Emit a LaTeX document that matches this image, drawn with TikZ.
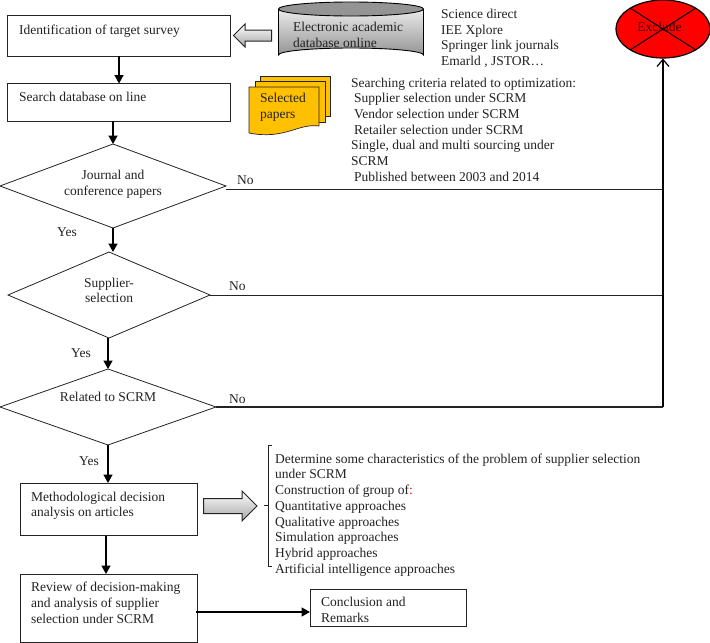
\documentclass[tikz,border=0pt]{standalone}
\usepackage{fontspec}
\setmainfont{Liberation Serif}
\usetikzlibrary{arrows.meta,shapes.geometric}
\definecolor{ink}{RGB}{35,35,35}
\definecolor{gold}{RGB}{255,192,0}
\tikzset{
  x=1pt,y=-1pt,
  flowbox/.style={draw=ink,line width=0.8pt,fill=white},
  dia/.style={draw=ink,line width=0.8pt,fill=white},
  txt/.style={font=\fontsize{13.5}{15.7}\selectfont,text=ink,align=left,inner sep=0pt,anchor=north west},
  ctxt/.style={font=\fontsize{13.5}{15.7}\selectfont,text=ink,align=center,inner sep=0pt},
  flow/.style={draw=black,line width=1.5pt,-{Triangle[length=8.5pt,width=9pt]}},
  noline/.style={draw=ink,line width=0.8pt},
  upline/.style={draw=black,line width=1.2pt,-{Straight Barb[length=7pt,width=12pt,line width=1.2pt]}},
  blockarrow/.style={draw=ink,line width=1pt,top color=white,bottom color=black!35},
  page/.style={draw=ink,line width=0.7pt,fill=gold},
}
\begin{document}
\begin{tikzpicture}
\useasboundingbox (0,0) rectangle (710,643);
\fill[white] (0,0) rectangle (710,643);

% boxes
\draw[flowbox] (7.5,15.5) rectangle (230.5,56);
\coordinate (b1b) at (119,56);
\draw[flowbox] (7.5,83.5) rectangle (230.5,121);
\coordinate (b2t) at (119,83.5);
\coordinate (b2b) at (113,121);
\node[txt] (t1) at (19,25) {Identification of target survey};
\node[txt] (t2) at (19,92) {Search database on line};

% diamonds
\draw[dia] (0,186) -- (113,144) -- (226,186) -- (113,228) -- cycle;
\coordinate (d1t) at (113,144); \coordinate (d1b) at (113,228); \coordinate (d1r) at (226,189);
\node[ctxt] (t3) at (113,184.5) {Journal and\\conference papers};
\draw[dia] (8,295) -- (109,252) -- (210,295) -- (109,338) -- cycle;
\coordinate (d2t) at (112,252); \coordinate (d2b) at (108,338); \coordinate (d2r) at (210,295);
\node[ctxt] (t4) at (109,290.5) {Supplier-\\selection};
\draw[dia] (0,407) -- (108,369) -- (216,407) -- (108,445) -- cycle;
\coordinate (d3t) at (108,369); \coordinate (d3b) at (108,445); \coordinate (d3r) at (216,407);
\node[ctxt] (t5) at (108,396.5) {Related to SCRM};

\draw[flowbox] (20,483) rectangle (197,535.5);
\coordinate (b3t) at (108,483); \coordinate (b3b) at (106,535.5);
\node[txt] (t6) at (31,491.5) {Methodological decision\\analysis on articles};
\draw[flowbox] (20,574) rectangle (197,642);
\coordinate (b4t) at (106,574); \coordinate (b4r) at (196,612);
\node[txt] (t7) at (31,582) {Review of decision-making\\and analysis of supplier\\selection under SCRM};
\draw[flowbox] (310,589) rectangle (466,626);
\coordinate (b5l) at (310,612);
\node[txt] (t8) at (321,597) {Conclusion and\\Remarks};

% flow arrows
\draw[flow] (b1b) -- (b2t);
\draw[flow] (b2b) -- (d1t);
\draw[flow] (d1b) -- (113,252);
\draw[flow] (d2b) -- (d3t);
\draw[flow] (d3b) -- (b3t);
\draw[flow] (b3b) -- (b4t);
\draw[flow,line width=1.6pt] (b4r) -- (b5l);

\node[ctxt,anchor=west] (y1) at (57,232.5) {Yes};
\node[ctxt,anchor=west] (y2) at (71,353.5) {Yes};
\node[ctxt,anchor=west] (y3) at (79,461.5) {Yes};
\node[ctxt,anchor=west] (n1) at (237,180) {No};
\node[ctxt,anchor=west] (n2) at (229,286) {No};
\node[ctxt,anchor=west] (n3) at (229,399) {No};

% Exclude
\node[draw=black,line width=1.2pt,fill=red,ellipse,minimum width=94pt,minimum height=58pt,inner sep=0pt] (ex) at (663,29) {};
\draw[black,line width=1pt] (630,8) -- (696,50);
\draw[black,line width=1pt] (696,8) -- (630,50);
\node[ctxt,text=black!75!red] (ext) at (659.5,26.5) {Exclude};

\coordinate (j) at (663,407);
\draw[noline] (d1r) -- (663,189);
\draw[noline] (d2r) -- (663,295);
\draw[noline,line width=1.1pt] (d3r) -- (j);
\draw[upline] (j) -- (ex.south);

% cylinder
\shade[top color=black!8,bottom color=black!42] (278.5,9) -- (278.5,55) arc[start angle=180,end angle=360,x radius=72.5,y radius=7] -- (423.5,9) arc[start angle=0,end angle=180,x radius=72.5,y radius=7];
\draw[black,line width=0.9pt,fill=black!42] (351,9) ellipse[x radius=72.5,y radius=7];
\draw[black,line width=0.9pt] (278.5,9) -- (278.5,55) arc[start angle=180,end angle=360,x radius=72.5,y radius=7] -- (423.5,9);
\node[txt,font=\fontsize{13.5}{16.3}\selectfont] (db) at (293,22) {Electronic academic\\database online};

% block arrows
\draw[blockarrow] (233.5,35.5) -- (245,24) -- (245,30) -- (271.5,30) -- (271.5,41) -- (245,41) -- (245,47) -- cycle;
\draw[blockarrow] (203.5,498.5) -- (242,498.5) -- (242,491) -- (257,506) -- (242,521) -- (242,513.5) -- (203.5,513.5) -- cycle;

% selected papers
\draw[page] (260,76) rectangle (330.5,116.5);
\draw[page] (255,81) rectangle (325,122);
\draw[page] (249,87) -- (319,87) -- (319,126) .. controls (298,123) and (285,140) .. (249,133) -- cycle;
\node[txt] (sp) at (260,93) {Selected\\papers};

% text lists
\node[txt] (l1) at (441,9) {Science direct\\IEE Xplore\\Springer link journals\\Emarld , JSTOR…};
\node[txt] (l2) at (351,77.5) {Searching criteria related to optimization:\\
\hspace*{3pt}Supplier selection under SCRM\\
\hspace*{3pt}Vendor selection under SCRM\\
\hspace*{3pt}Retailer selection under SCRM\\
Single, dual and multi sourcing under\\
SCRM\\
\hspace*{3pt}Published between 2003 and 2014};
\node[txt] (l3) at (275,453.5) {Determine some characteristics of the problem of supplier selection\\
under SCRM\\
Construction of group of{\color{red}:}\\
Quantitative approaches\\
Qualitative approaches\\
Simulation approaches\\
Hybrid approaches\\
Artificial intelligence approaches};

% bracket
\draw[ink,line width=0.9pt] (272,445) -- (268,445) -- (268,566) -- (272,566);
\draw[ink,line width=0.9pt] (263.5,505.5) -- (268,505.5);
\end{tikzpicture}
\end{document}
